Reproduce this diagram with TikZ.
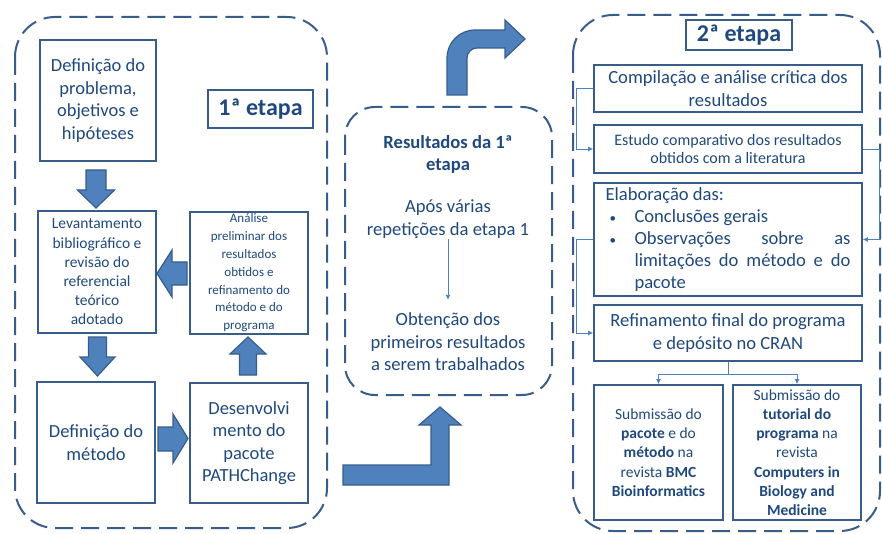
\documentclass[tikz,border=0pt]{standalone}
\usepackage{fontspec}
\setmainfont{Carlito}
\usetikzlibrary{arrows.meta}
\usetikzlibrary{positioning}
\usetikzlibrary{calc}
\definecolor{navy}{HTML}{1F497D}
\definecolor{boxline}{HTML}{385D8A}
\definecolor{arrowfill}{HTML}{4F81BD}

\begin{document}
\begin{tikzpicture}[x=1pt,y=-1pt,
  box/.style={draw=boxline,line width=1.8pt,text=navy,align=center,inner sep=1pt},
  txt/.style={text=navy,align=center,inner sep=1pt},
  frame/.style={draw=boxline,line width=2pt,dash pattern=on 18pt off 8pt},
  blk/.style={fill=arrowfill,draw=boxline,line width=1.2pt},
  link/.style={draw=arrowfill,line width=0.8pt,-{Latex[length=5pt,width=5pt]}},
  large/.style={font=\fontsize{18.5}{22.5}\selectfont},
  medium/.style={font=\fontsize{18.6}{22.4}\selectfont},
  small/.style={font=\fontsize{15.5}{19.2}\selectfont},
  tiny/.style={font=\fontsize{13}{17.8}\selectfont},
  title/.style={font=\fontsize{24}{28}\selectfont\bfseries}]
\useasboundingbox (0,0) rectangle (882,534);

% frames
\draw[frame,rounded corners=40pt] (15,17) rectangle (327,528);
\draw[frame,rounded corners=30pt] (345,107) rectangle (552,395);
\draw[frame,rounded corners=40pt] (573,15) rectangle (880,531);

% 1a etapa
\node[box,large,minimum width=116pt,minimum height=121pt] (prob) at (98,100.5) {Definição do\\problema,\\objetivos e\\hipóteses};
\node[box,title,line width=1.2pt,minimum width=105pt,minimum height=38pt] (et1) at (260.5,109) {1ª etapa};
\node[box,small,minimum width=118pt,minimum height=122pt] (lev) at (97,272) {Levantamento\\bibliográfico e\\revisão do\\referencial\\teórico\\adotado};
\node[box,tiny,minimum width=118pt,minimum height=122pt,inner sep=0pt] (ana) at (249,273) {Análise\\preliminar dos\\resultados\\obtidos e\\refinamento do\\método e do\\programa};
\node[box,large,minimum width=118pt,minimum height=121pt] (met) at (96,442.5) {Definição do\\método};
\node[box,large,minimum width=118pt,minimum height=120pt] (dev) at (249,443) {Desenvolvi\\mento do\\pacote\\PATHChange};

\draw[blk] (86,170) -- (106,170) -- (106,190) -- (114.5,190) -- (96,208) -- (77.5,190) -- (86,190) -- cycle;
\draw[blk] (88.5,337) -- (106.5,337) -- (106.5,357) -- (115,357) -- (97.5,376) -- (80,357) -- (88.5,357) -- cycle;
\draw[blk] (187,262) -- (187,285) -- (172,285) -- (172,297) -- (157,273.5) -- (172,250) -- (172,262) -- cycle;
\draw[blk] (158,427) -- (173,427) -- (173,414) -- (188,438.5) -- (173,463) -- (173,451) -- (158,451) -- cycle;
\draw[blk] (239.5,375) -- (239.5,354) -- (230,354) -- (248,337) -- (266,354) -- (256.5,354) -- (256.5,375) -- cycle;

% resultados
\node[txt,font=\fontsize{18.6}{22}\selectfont\bfseries] (res) at (448,154) {Resultados da 1ª\\etapa};
\node[txt,medium] (apos) at (448,219) {Após várias\\repetições da etapa 1};
\node[txt,medium] (obt) at (448,342) {Obtenção dos\\primeiros resultados\\a serem trabalhados};
\draw[link,shorten >=12pt] (apos) -- (obt);

\draw[blk] (447,95) -- (447,58) arc[start angle=180,end angle=270,radius=28] -- (505,30) -- (505,20) -- (525,39) -- (505,58) -- (505,48) -- (477,48) arc[start angle=270,end angle=180,radius=10] -- (467,95) -- cycle;
\draw[blk] (343,465) -- (431,465) -- (431,425) -- (419,425) -- (440,407) -- (461,425) -- (449,425) -- (449,485) -- (343,485) -- cycle;

% 2a etapa
\node[box,title,line width=1.2pt,minimum width=106pt,minimum height=30pt,inner sep=0pt] (et2) at (739,35) {2ª etapa};
\node[box,medium,minimum width=268pt,minimum height=47pt,inner sep=0pt] (comp) at (728,88.5) {Compilação e análise crítica dos\\resultados};
\node[box,font=\fontsize{16}{18.5}\selectfont,minimum width=268pt,minimum height=48pt] (est) at (728,149) {Estudo comparativo dos resultados\\obtidos com a literatura};
\node[box,minimum width=268pt,minimum height=113pt,inner sep=0pt] (ela) at (728,239.5) {\begin{minipage}{245pt}
\fontsize{18.6}{22.2}\selectfont\sloppy\hyphenpenalty=10000
Elaboração das:\par
\noindent\hangindent=29pt\hangafter=1\makebox[29pt][l]{\hspace{4pt}\fontsize{13}{13}\selectfont•}Conclusões gerais\par
\noindent\hangindent=29pt\hangafter=1\makebox[29pt][l]{\hspace{4pt}\fontsize{13}{13}\selectfont•}Observações sobre as limitações do método e do pacote\par
\end{minipage}};
\node[box,medium,minimum width=268pt,minimum height=56pt] (ref) at (728,333) {Refinamento final do programa\\e depósito no CRAN};
\node[box,small,minimum width=129pt,minimum height=135pt] (sub1) at (658.5,452.5) {Submissão do\\\textbf{pacote} e do\\\textbf{método} na\\revista \textbf{BMC}\\\textbf{Bioinformatics}};
\node[box,small,minimum width=128pt,minimum height=135pt,inner sep=0pt] (sub2) at (797,452.5) {Submissão do\\\textbf{tutorial do}\\\textbf{programa} na\\revista\\\textbf{Computers in}\\\textbf{Biology and}\\\textbf{Medicine}};

\draw[link] (comp.west) -- ++(-17,0) |- (est.west);
\draw[link] (est.east) -- ++(16,0) |- (ela.east);
\draw[link] (ela.west) -- ++(-17,0) |- (ref.west);
\draw[link] (ref.south) -- ++(0,12) coordinate (split) -| (sub1.north);
\draw[link] (split) -| (sub2.north);
\end{tikzpicture}
\end{document}
